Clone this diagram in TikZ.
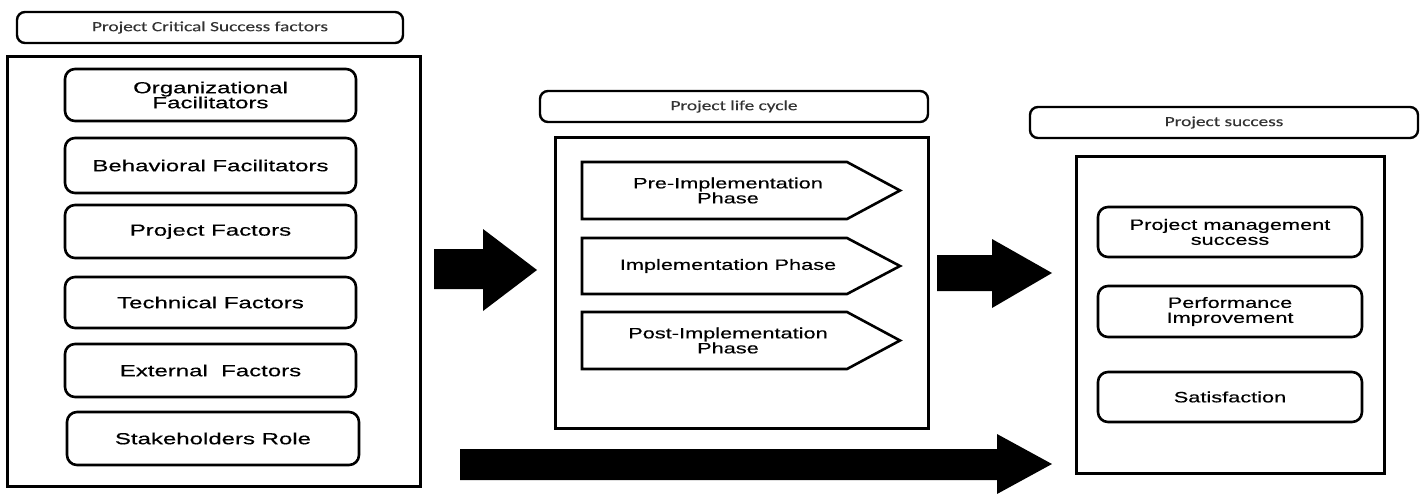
\documentclass[tikz,border=0pt]{standalone}
\usepackage{fontspec}
\setmainfont{Liberation Sans}
\newfontfamily\bodyfont[FakeStretch=1.5,FakeBold=0.4]{Liberation Sans}
\newfontfamily\phasefont[FakeStretch=1.45,FakeBold=0.4]{Liberation Sans}
\newfontfamily\headfont[FakeStretch=1.38,FakeBold=0.3]{Carlito}
\usetikzlibrary{positioning}

\tikzset{
  headbox/.style={draw, line width=2.4pt, rounded corners=8pt, inner sep=0pt,
    font=\headfont\fontsize{14}{16}\selectfont, text=black!80},
  panel/.style={draw, line width=3pt, inner sep=0pt},
  factor/.style={draw, line width=2.6pt, rounded corners=10pt, inner sep=0pt,
    align=center, font=\bodyfont\fontsize{16}{15}\selectfont, text=black},
  outcome/.style={draw, line width=2.6pt, rounded corners=10pt, inner sep=0pt,
    align=center, font=\phasefont\fontsize{15}{15}\selectfont, text=black},
  phaseshape/.style={draw, line width=2.6pt, line join=miter},
  phasetext/.style={align=center, inner sep=0pt,
    font=\phasefont\fontsize{15}{15}\selectfont, text=black},
  blockarrow/.style={fill=black, draw=none},
}

\begin{document}
\begin{tikzpicture}[x=1pt, y=-1pt]
\useasboundingbox (0,0) rectangle (1426,493);
\clip (0,0) rectangle (1426,493);

% ---------- critical success factors ----------
\node[headbox, minimum width=386, minimum height=31] (csfhead) at (210,27.5)
  {Project Critical Success factors};
\node[panel, minimum width=413, minimum height=430] (csf) at (213.5,271) {};
\node[factor, minimum width=291, minimum height=52] (org)   at (210.5,95)
  {Organizational\\Facilitators};
\node[factor, minimum width=291, minimum height=55] (beh)   at (210.5,165.5)
  {Behavioral Facilitators};
\node[factor, minimum width=291, minimum height=53] (proj)  at (210.5,231.5)
  {Project Factors};
\node[factor, minimum width=291, minimum height=51] (tech)  at (210.5,302.5)
  {Technical Factors};
\node[factor, minimum width=291, minimum height=53] (ext)   at (210.5,370.5)
  {External\ \ Factors};
\node[factor, minimum width=292, minimum height=53] (stake) at (213,438.5)
  {Stakeholders Role};

% ---------- project life cycle ----------
\node[headbox, minimum width=388, minimum height=31] (plchead) at (734,106.5)
  {Project life cycle};
\node[panel, minimum width=373, minimum height=291] (plc) at (741.5,282.5) {};
\draw[phaseshape] (582,162) -- (847,162) -- (900,190.5) -- (847,219) -- (582,219) -- cycle;
\draw[phaseshape] (582,238) -- (847,238) -- (900,266) -- (847,294) -- (582,294) -- cycle;
\draw[phaseshape] (582,312) -- (847,312) -- (900,340.5) -- (847,369) -- (582,369) -- cycle;
\node[phasetext] (pre)  at (728,190.5) {Pre-Implementation\\Phase};
\node[phasetext] (impl) at (728,266)   {Implementation Phase};
\node[phasetext] (post) at (728,340.5) {Post-Implementation\\Phase};

% ---------- project success ----------
\node[headbox, minimum width=388, minimum height=31] (pshead) at (1224,122.5)
  {Project success};
\node[panel, minimum width=308, minimum height=317] (ps) at (1230,314.5) {};
\node[outcome, minimum width=264, minimum height=50] (pms)  at (1230,232)
  {Project management\\success};
\node[outcome, minimum width=264, minimum height=51] (perf) at (1230,311.5)
  {Performance\\Improvement};
\node[outcome, minimum width=264, minimum height=50] (sat)  at (1230,397)
  {Satisfaction};

% ---------- block arrows ----------
\fill[blockarrow] (434,249) -- (483,249) -- (483,229) -- (537,270) -- (483,311)
  -- (483,289) -- (434,289) -- cycle;
\fill[blockarrow] (937,255) -- (992,255) -- (992,239) -- (1052,273) -- (992,308)
  -- (992,291) -- (937,291) -- cycle;
\fill[blockarrow] (460,449) -- (997,449) -- (997,434) -- (1052,464) -- (997,494)
  -- (997,480) -- (460,480) -- cycle;
\end{tikzpicture}
\end{document}
